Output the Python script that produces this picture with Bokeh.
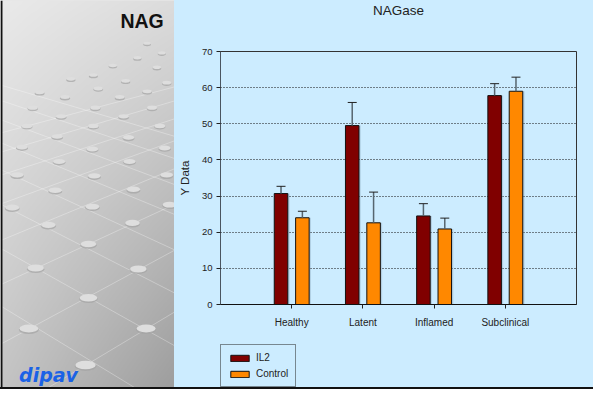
import numpy as np
from bokeh.plotting import figure
from bokeh.models import (ColumnDataSource, FactorRange, Whisker, TeeHead, Legend,
                          LegendItem, FixedTicker, Label, Div, Span)
from bokeh.transform import dodge
from bokeh.layouts import row, column
from bokeh.embed import file_html
from bokeh.resources import INLINE

# ---------------- data ----------------
categories = ["Healthy", "Latent", "Inflamed", "Subclinical"]
il2 = [30.7, 49.5, 24.5, 57.8]
il2_err = [2.0, 6.4, 3.4, 3.3]
control = [24.0, 22.6, 20.9, 59.0]
control_err = [1.8, 8.5, 3.0, 3.9]
y_ticks = [0, 10, 20, 30, 40, 50, 60, 70]
series_names = ["IL2", "Control"]
series_colors = ["#800000", "#FF8800"]
chart_title = "NAGase"

BLUE_BG = "#CCECFF"
FONT = "Liberation Sans"
H = 387
H_TITLE = 19
H_LEG = 47
W_R = 419
B_L, B_R = 46, 17

# ---------------- left decorative panel ----------------
left = figure(width=174, height=H, x_range=(0, 178), y_range=(0, 403),
              output_backend="svg", toolbar_location=None, min_border=0)
left.frame_align = False
left.axis.visible = False
left.grid.visible = False
left.outline_line_color = None
left.background_fill_color = "#d0d0d0"
left.border_fill_color = "#d0d0d0"

nx, ny = 178, 403
u = np.linspace(0, 1, nx)[None, :]
v = 1 - np.linspace(0, 1, ny)[:, None]          # 0 top, 1 bottom
g = (234 - 38 * v - 14 * u - 24 * u * v).astype(np.uint8)
img = np.zeros((ny, nx), dtype=np.uint32)
view = img.view(dtype=np.uint8).reshape((ny, nx, 4))
view[:, :, 0] = g
view[:, :, 1] = g
view[:, :, 2] = g
view[:, :, 3] = 255
left.image_rgba(image=[img], x=0, y=0, dw=178, dh=403)

# perspective grid lines (reference pixel coords, y downward)
a_int = [318, 258, 212, 176, 148, 124, 104, 88]
a_slope = [0.62, 0.57, 0.52, 0.47, 0.42, 0.38, 0.34, 0.30]
b_int = [433, 358, 296, 250, 212, 182, 158, 138]
b_slope = [-0.61, -0.55, -0.47, -0.42, -0.37, -0.33, -0.30, -0.27]
xs, ys = [], []
for c, s in list(zip(a_int, a_slope)) + list(zip(b_int, b_slope)):
    xs.append([0, 178])
    ys.append([403 - c, 403 - (c + s * 178)])
left.multi_line(xs=xs, ys=ys, line_color="white", line_alpha=0.3, line_width=1)

dots = [(87, 380), (149, 342), (29, 342), (90, 310), (141, 280), (36, 279), (90, 254),
        (135, 232), (49, 234), (94, 215), (173, 213), (12, 216), (56, 198), (136, 197),
        (96, 183), (170, 182), (17, 182), (60, 168), (132, 168), (94, 155), (168, 154),
        (22, 153), (58, 142), (131, 143), (95, 131), (163, 131), (27, 131), (62, 121),
        (126, 121), (97, 112), (155, 112), (33, 112), (66, 101), (122, 101), (150, 95),
        (100, 92), (40, 96), (170, 86), (128, 84), (72, 82), (160, 70), (115, 68),
        (165, 55), (150, 45), (140, 60), (95, 78)]
dx = [d[0] for d in dots]
dy = [403 - d[1] for d in dots]
dw = [6 + 0.042 * d[1] for d in dots]
dh = [0.45 * w for w in dw]
left.ellipse(x=dx, y=[y - 0.8 for y in dy], width=dw, height=dh,
             fill_color="#a4a4a4", line_color=None, fill_alpha=0.7)
left.ellipse(x=dx, y=[y + 0.4 for y in dy], width=[w * 0.95 for w in dw],
             height=[h * 0.9 for h in dh], fill_color="#dedede", line_color=None)

left.add_layout(Label(x=167, y=403 - 21, text="NAG", text_align="right",
                      text_baseline="middle", text_font=FONT, text_font_size="19.5px",
                      text_font_style="bold", text_color="#111111"))
left.add_layout(Label(x=19, y=403 - 390, text="dipav", text_align="left",
                      text_baseline="alphabetic", text_font="DejaVu Sans",
                      text_font_size="19px", text_font_style="bold italic",
                      text_color="#1a62e6"))
left.add_layout(Span(location=1, dimension="height", line_color="#111111", line_width=2))

# ---------------- title strip ----------------
tfig = figure(width=W_R, height=H_TITLE, x_range=(0, W_R), y_range=(0, 1),
              output_backend="svg", toolbar_location=None, min_border=0)
tfig.frame_align = False
tfig.axis.visible = False
tfig.grid.visible = False
tfig.outline_line_color = None
tfig.background_fill_color = BLUE_BG
tfig.border_fill_color = BLUE_BG
tfig.add_layout(Label(x=B_L + (W_R - B_L - B_R) / 2, y=0.5, text=chart_title,
                      text_align="center", text_baseline="middle", text_font=FONT,
                      text_font_size="13.5px", text_color="#222222"))

# ---------------- chart panel ----------------
src = ColumnDataSource(dict(
    cat=categories,
    il2=il2,
    il2_hi=[a + b for a, b in zip(il2, il2_err)],
    control=control,
    control_hi=[a + b for a, b in zip(control, control_err)],
))

p = figure(width=W_R, height=H - H_LEG - H_TITLE,
           x_range=FactorRange(factors=categories, range_padding=0.5,
                               range_padding_units="absolute"),
           y_range=(0, 70), output_backend="svg", toolbar_location=None,
           min_border_left=B_L, min_border_right=B_R, min_border_bottom=36,
           min_border_top=51 - H_TITLE)
p.frame_align = False
p.background_fill_color = BLUE_BG
p.border_fill_color = BLUE_BG
p.outline_line_color = "#333333"
p.outline_line_width = 1

p.xgrid.visible = False
p.ygrid.ticker = FixedTicker(ticks=y_ticks)
p.ygrid.grid_line_color = "#111111"
p.ygrid.grid_line_dash = "1 2"
p.ygrid.grid_line_width = 1

p.yaxis.ticker = FixedTicker(ticks=y_ticks)
p.yaxis.minor_tick_line_color = None
p.yaxis.major_tick_in = 0
p.yaxis.major_tick_out = 4
p.yaxis.axis_line_color = "#4a5560"
p.yaxis.major_tick_line_color = "#222222"
p.yaxis.major_label_text_font = FONT
p.yaxis.major_label_text_font_size = "9.5px"
p.yaxis.major_label_text_color = "#222222"
p.yaxis.major_label_standoff = 4
p.yaxis.axis_label = "Y Data"
p.yaxis.axis_label_text_font = FONT
p.yaxis.axis_label_text_font_size = "11.5px"
p.yaxis.axis_label_text_font_style = "normal"
p.yaxis.axis_label_text_color = "#222222"
p.yaxis.axis_label_standoff = 8

p.xaxis.major_tick_in = 0
p.xaxis.major_tick_out = 4
p.xaxis.axis_line_color = "#111111"
p.xaxis.major_tick_line_color = "#222222"
p.xaxis.major_label_text_font = FONT
p.xaxis.major_label_text_font_size = "10px"
p.xaxis.major_label_text_color = "#222222"
p.xaxis.major_label_standoff = 8

offsets = [-0.15, 0.15]
fields = ["il2", "control"]
for off, f, c in zip(offsets, fields, series_colors):
    p.vbar(x=dodge("cat", off + 0.025, range=p.x_range), top=f, width=0.19, source=src,
           fill_color="#7f9cb0", fill_alpha=0.35, line_color=None)
    p.vbar(x=dodge("cat", off, range=p.x_range), top=f, width=0.19, source=src,
           fill_color=c, line_color="#111111", line_width=1)
    w = Whisker(base=dodge("cat", off, range=p.x_range), lower=f, upper=f + "_hi",
                source=src, line_color="#56656f", line_width=1.5,
                upper_head=TeeHead(size=9, line_color="#222222", line_width=1),
                lower_head=None, level="glyph")
    p.add_layout(w)

# ---------------- legend strip (below the chart) ----------------
leg = figure(width=W_R, height=H_LEG, x_range=(-1, 0), y_range=(0, 1),
             output_backend="svg", toolbar_location=None,
             min_border_left=B_L, min_border_right=0, min_border_top=0, min_border_bottom=0)
leg.frame_align = False
leg.axis.visible = False
leg.grid.visible = False
leg.outline_line_color = None
leg.background_fill_color = BLUE_BG
leg.border_fill_color = BLUE_BG
leg_renderers = []
for f, c in zip(fields, series_colors):
    # same series drawn off-view in this strip; only their legend swatches show
    leg_renderers.append(leg.vbar(x=f, top=f, width=0.1, source=src, fill_color=c,
                                  line_color="#111111", line_width=1))
legend = Legend(items=[LegendItem(label=n, renderers=[r])
                       for n, r in zip(series_names, leg_renderers)],
                location=(0, 0), orientation="vertical",
                background_fill_color=BLUE_BG, background_fill_alpha=1,
                border_line_color="#222222", border_line_width=1,
                glyph_width=23, glyph_height=8, label_height=10, label_standoff=5,
                label_text_font=FONT, label_text_font_size="10px",
                label_text_color="#222222", spacing=5, padding=7, margin=0)
leg.add_layout(legend, "center")

right_col = column(tfig, p, leg, spacing=0, styles={"background-color": BLUE_BG})
bottom_line = Div(width=593, height=2, margin=0, styles={"background-color": "#111111"})
layout = column(row(left, right_col, spacing=0), bottom_line, spacing=0)

with open("out.html", "w") as fh:
    fh.write(file_html(layout, INLINE))
